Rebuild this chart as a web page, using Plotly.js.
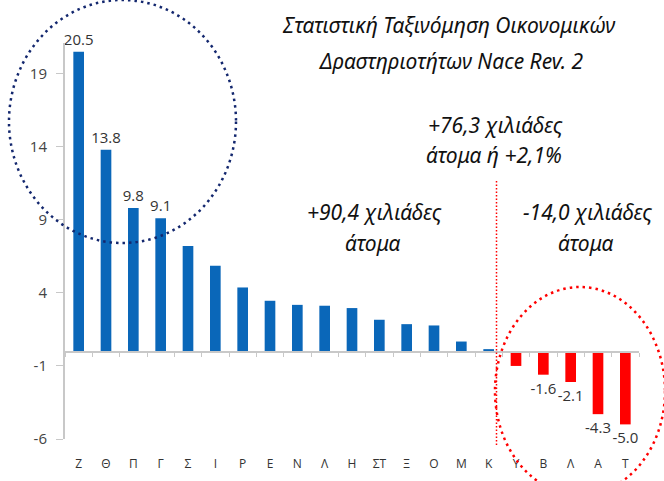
<!DOCTYPE html>
<html>
<head>
<meta charset="utf-8">
<script src="https://cdn.plot.ly/plotly-3.0.1.min.js"></script>
<style>html,body{margin:0;padding:0;background:#fff;}#chart{width:664px;height:481px;}</style>
</head>
<body>
<div id="chart"></div>
<script>
// Sector codes (NACE Rev. 2, Greek letters)
const categories = ['Ζ','Θ','Π','Γ','Σ','Ι','Ρ','Ε','Ν','Λ','Η','ΣΤ','Ξ','Ο','Μ','Κ','Υ','Β','Λ','Α','Τ'];
// Change in employment (thousands of persons)
const values = [20.5, 13.8, 9.8, 9.1, 7.2, 5.85, 4.37, 3.46, 3.18, 3.12, 2.96, 2.16, 1.86, 1.77, 0.67, 0.15, -1.0, -1.6, -2.1, -4.3, -5.0];
// Which bars carry a value label
const labelled = [true, true, true, true, false, false, false, false, false, false, false, false, false, false, false, false, false, true, true, true, true];

const yRange = [-6, 21.1];
const yTicks = [-6, -1, 4, 9, 14, 19];
const yTickText = yTicks.map(v => String(v));

const idx = categories.map((_, i) => i);
const colors = values.map(v => v >= 0 ? '#0a67b9' : '#ff0000');
const texts = values.map((v, i) => labelled[i] ? v.toFixed(1) : '');
const boundaries = [-0.5].concat(idx.map(i => i + 0.5));

const bars = {
  type: 'bar',
  x: idx,
  y: values,
  marker: {color: colors},
  text: texts,
  textposition: 'outside',
  constraintext: 'none',
  cliponaxis: false,
  textfont: {family: 'Open Sans, sans-serif', size: 15, color: '#333'},
  hoverinfo: 'skip',
  showlegend: false
};
const baseline = {
  type: 'scatter',
  x: idx,
  y: idx.map(() => 0),
  xaxis: 'x2',
  mode: 'markers',
  marker: {opacity: 0},
  hoverinfo: 'skip',
  showlegend: false
};

const italic = {family: 'Noto Sans, sans-serif', size: 21, color: '#111'};
function note(text, px, py) {
  return {text: '<i>' + text + '</i>', xref: 'paper', yref: 'paper',
          x: (px - 65) / 574, y: (439 - py) / 396,
          xanchor: 'center', yanchor: 'middle', showarrow: false, font: italic};
}

const layout = {
  width: 664, height: 481,
  margin: {l: 65, r: 25, t: 43, b: 42},
  paper_bgcolor: '#fff', plot_bgcolor: '#fff',
  bargap: 0.61,
  xaxis: {
    range: [-0.5, categories.length - 0.5],
    tickvals: idx, ticktext: categories,
    ticks: '', showline: false, showgrid: false, zeroline: false,
    ticklabelstandoff: 16,
    tickfont: {family: 'Open Sans, sans-serif', size: 12, color: '#333'}
  },
  xaxis2: {
    overlaying: 'x', anchor: 'free',
    position: (0 - yRange[0]) / (yRange[1] - yRange[0]),
    range: [-0.5, categories.length - 0.5],
    tickvals: boundaries, showticklabels: false,
    ticks: 'outside', ticklen: 4, tickcolor: '#c8c8c8', tickwidth: 1,
    showline: true, linecolor: '#c8c8c8', linewidth: 1.5,
    showgrid: false, zeroline: false
  },
  yaxis: {
    range: yRange, tickvals: yTicks, ticktext: yTickText,
    showgrid: false, zeroline: false,
    showline: true, linecolor: '#c8c8c8', linewidth: 2,
    ticks: 'outside', ticklen: 7, tickcolor: '#c8c8c8',
    ticklabelstandoff: 6,
    tickfont: {family: 'Open Sans, sans-serif', size: 15, color: '#444'}
  },
  shapes: [
    {type: 'circle', xref: 'paper', yref: 'paper',
     x0: (9 - 65) / 574, x1: (236 - 65) / 574, y0: (439 - 243) / 396, y1: (439 - 0) / 396,
     line: {color: '#13276e', width: 2.5, dash: '2.5px,4px'}},
    {type: 'circle', xref: 'paper', yref: 'paper',
     x0: (495 - 65) / 574, x1: (665 - 65) / 574, y0: (439 - 495) / 396, y1: (439 - 287) / 396,
     line: {color: '#ff0000', width: 2.5, dash: '2.5px,4px'}},
    {type: 'line', xref: 'paper', yref: 'paper',
     x0: (496.5 - 65) / 574, x1: (496.5 - 65) / 574, y0: (439 - 445) / 396, y1: (439 - 180) / 396,
     line: {color: '#ff0000', width: 1.5, dash: '1.5px,2px'}}
  ],
  annotations: [
    note('Στατιστική Ταξινόμηση Οικονομικών', 449, 25),
    note('Δραστηριοτήτων Nace Rev. 2', 451, 61),
    note('+76,3 χιλιάδες', 495, 125),
    note('άτομα ή +2,1%', 494, 155),
    note('+90,4 χιλιάδες', 374, 212),
    note('άτομα', 373, 243),
    note('-14,0 χιλιάδες', 587, 212),
    note('άτομα', 586, 243)
  ]
};

Plotly.newPlot('chart', [bars, baseline], layout, {displayModeBar: false, staticPlot: true});
</script>
</body>
</html>
